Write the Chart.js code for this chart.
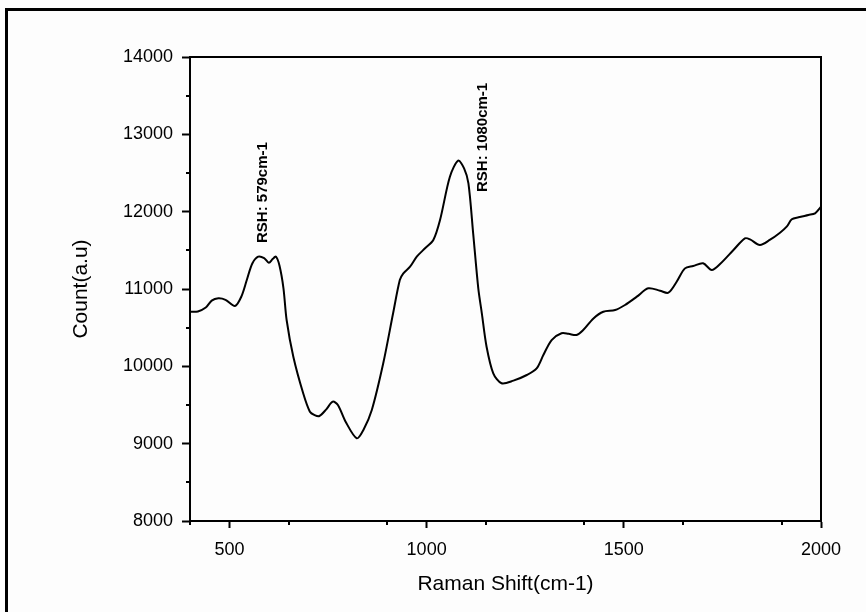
<!DOCTYPE html>
<html>
<head>
<meta charset="utf-8">
<script src="https://cdn.jsdelivr.net/npm/chart.js@4.4.1/dist/chart.umd.min.js"></script>
<style>
    html, body { margin: 0; padding: 0; overflow: hidden; background: #fdfdfd; }
    #wrap { position: relative; width: 866px; height: 612px; }
    #frame { position: absolute; left: 5px; top: 8px; width: 900px; height: 700px; border: 3px solid #000; box-sizing: border-box; }
    canvas { position: absolute; left: 0; top: 0; }
</style>
</head>
<body>
<div id="wrap">
    <div id="frame"></div>
    <canvas id="ramanChart" width="866" height="612"></canvas>
</div>
<script>
// Raman shift (cm-1) and counts
const shifts = [400, 420, 440, 455, 472, 490, 514, 530, 544, 558, 573, 588, 600, 610, 618, 627, 637, 645, 662, 687,
    704, 716, 728, 745, 762, 775, 795, 823, 840, 861, 890, 915, 932, 941, 958, 975, 996, 1017, 1034, 1059,
    1080, 1095, 1106, 1118, 1131, 1140, 1152, 1169, 1190, 1220, 1254, 1279, 1296, 1317, 1342, 1360, 1380, 1397, 1423, 1448,
    1478, 1503, 1533, 1562, 1592, 1613, 1634, 1655, 1676, 1701, 1723, 1744, 1778, 1807, 1820, 1845, 1870, 1896, 1913, 1926,
    1943, 1968, 1985, 2000];
const counts = [10706, 10710, 10760, 10850, 10880, 10860, 10780, 10900, 11116, 11330, 11418, 11400, 11340, 11390, 11418, 11300, 11009, 10599, 10124, 9651,
    9413, 9370, 9358, 9440, 9543, 9500, 9280, 9069, 9180, 9435, 10039, 10686, 11116, 11203, 11288, 11418, 11526, 11634, 11892, 12452,
    12659, 12560, 12367, 11720, 11009, 10686, 10254, 9910, 9781, 9815, 9888, 9974, 10146, 10340, 10427, 10420, 10405, 10470, 10620, 10706,
    10728, 10793, 10901, 11009, 10978, 10952, 11094, 11267, 11297, 11332, 11246, 11323, 11504, 11655, 11642, 11569, 11634, 11728, 11806, 11901,
    11927, 11957, 11979, 12064];

// peak labels and where they sit (data units)
const peakLabels = ['RSH: 579cm-1', 'RSH: 1080cm-1'];
const peakLabelX = [585, 1143];
const peakLabelY = [11595, 12254];

const xMin = 400, xMax = 2000, xMajor = 500;
const yMin = 8000, yMax = 14000, yMajor = 1000;

const FONT = "'Liberation Sans', Arial, sans-serif";

const frameAndExtras = {
    id: 'frameAndExtras',
    afterDraw(chart) {
        const ctx = chart.ctx;
        const area = chart.chartArea;
        const xs = chart.scales.x;
        const ys = chart.scales.y;
        ctx.save();
        // box round plot
        ctx.strokeStyle = '#000';
        ctx.lineWidth = 2;
        ctx.strokeRect(area.left, area.top, area.right - area.left, area.bottom - area.top);

        // minor ticks
        ctx.beginPath();
        for (let v = xMin; v <= xMax; v += xMajor / 2) {
            if (v % xMajor === 0) continue;
            const px = Math.round(xs.getPixelForValue(v));
            ctx.moveTo(px, area.bottom);
            ctx.lineTo(px, area.bottom + 4);
        }
        for (let v = yMin; v <= yMax; v += yMajor / 2) {
            if (v % yMajor === 0) continue;
            const py = Math.round(ys.getPixelForValue(v));
            ctx.moveTo(area.left, py);
            ctx.lineTo(area.left - 4, py);
        }
        ctx.stroke();

        // peak labels
        ctx.fillStyle = '#000';
        ctx.font = 'bold 15px ' + FONT;
        ctx.textAlign = 'left';
        ctx.textBaseline = 'middle';
        peakLabels.forEach((txt, i) => {
            const px = xs.getPixelForValue(peakLabelX[i]);
            const py = ys.getPixelForValue(peakLabelY[i]);
            ctx.save();
            ctx.translate(px, py);
            ctx.rotate(-Math.PI / 2);
            ctx.fillText(txt, 0, 0);
            ctx.restore();
        });
        ctx.restore();
    }
};

const ctx = document.getElementById('ramanChart').getContext('2d');
new Chart(ctx, {
    type: 'scatter',
    data: {
        datasets: [{
            data: shifts.map((s, i) => ({ x: s, y: counts[i] })),
            showLine: true,
            borderColor: '#000',
            borderWidth: 2,
            pointRadius: 0,
            tension: 0.3,
            fill: false
        }]
    },
    options: {
        responsive: false,
        animation: false,
        events: [],
        layout: { padding: { left: 0, top: 57, right: 45, bottom: 0 } },
        plugins: {
            legend: { display: false },
            tooltip: { enabled: false }
        },
        scales: {
            x: {
                type: 'linear',
                min: xMin,
                max: xMax,
                afterFit: scale => { scale.height = 91; },
                afterBuildTicks: scale => {
                    scale.ticks = [];
                    for (let v = xMajor; v <= xMax; v += xMajor) scale.ticks.push({ value: v });
                },
                ticks: {
                    autoSkip: false,
                    maxRotation: 0,
                    color: '#000',
                    padding: 11,
                    font: { family: FONT, size: 18 },
                    callback: v => String(v)
                },
                grid: { drawOnChartArea: false, drawTicks: true, tickLength: 7, tickColor: '#000', tickWidth: 2 },
                border: { display: true, color: '#000', width: 2 },
                title: {
                    display: true,
                    text: 'Raman Shift(cm-1)',
                    color: '#000',
                    font: { family: FONT, size: 21 },
                    padding: { top: 0, bottom: 15 }
                }
            },
            y: {
                type: 'linear',
                min: yMin,
                max: yMax,
                afterFit: scale => { scale.width = 190; },
                ticks: {
                    stepSize: yMajor,
                    color: '#000',
                    padding: 9,
                    font: { family: FONT, size: 18 },
                    callback: v => String(v)
                },
                grid: { drawOnChartArea: false, drawTicks: true, tickLength: 8, tickColor: '#000', tickWidth: 2 },
                border: { display: true, color: '#000', width: 2 },
                title: {
                    display: true,
                    text: 'Count(a.u)',
                    color: '#000',
                    font: { family: FONT, size: 21 },
                    padding: { top: 69, bottom: 0 }
                }
            }
        }
    },
    plugins: [frameAndExtras]
});
</script>
</body>
</html>
